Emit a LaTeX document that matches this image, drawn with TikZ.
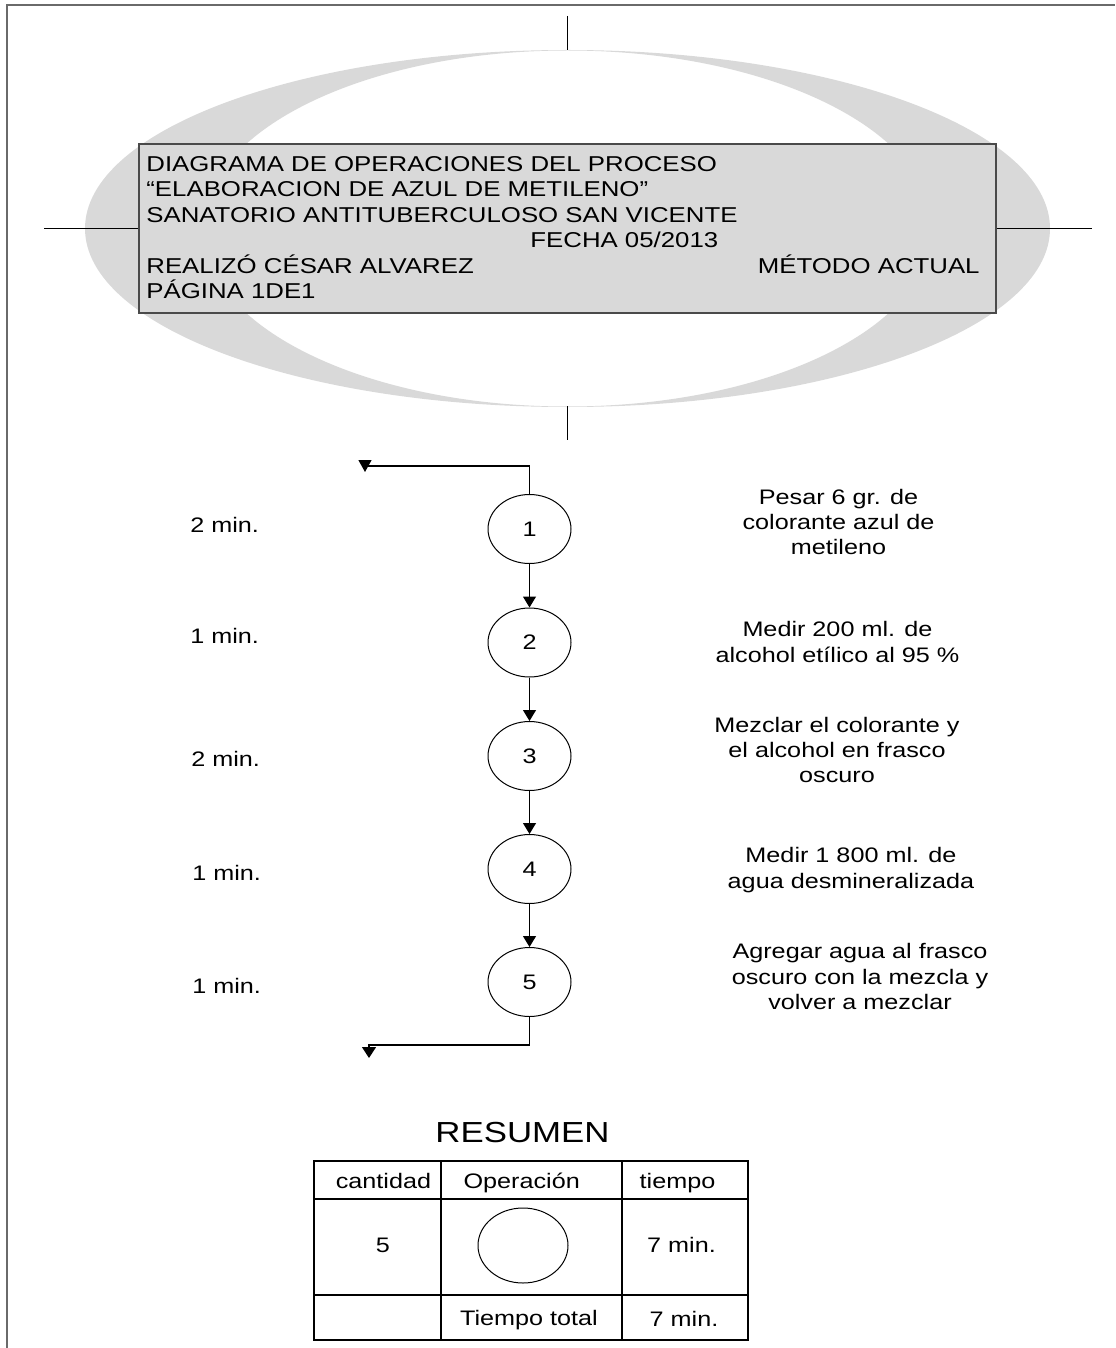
\documentclass[tikz,border=0pt]{standalone}
\usepackage{fontspec}
\setmainfont{Liberation Sans}[FakeStretch=1.2]
\usetikzlibrary{shapes.geometric,arrows.meta}
\definecolor{bandgray}{HTML}{D9D9D9}
\definecolor{framegray}{HTML}{6A6A6A}
\definecolor{edgegray}{HTML}{4A4A4A}

\begin{document}
\begin{tikzpicture}[x=0.5pt,y=-0.5pt,
  txt/.style={inner sep=0pt, font=\fontsize{10.5}{12.65}\selectfont},
  headtxt/.style={inner sep=0pt, font=\fontsize{10.75}{12.65}\selectfont},
  desc/.style={txt, align=center},
  opnode/.style={ellipse, draw, line width=0.5pt, minimum width=41.5pt,
    minimum height=34.5pt, inner sep=0pt, font=\fontsize{10.5}{12.65}\selectfont},
  flow/.style={line width=0.6pt, -{Triangle[length=5.5pt,width=6.5pt]}},
  thin/.style={line width=0.6pt},
]
\useasboundingbox (0,0) rectangle (1115,1348);

% page frame (left and top edges)
\draw[framegray, line width=1pt] (7,1348) -- (7,5) -- (1115,5);

% header: crescent band behind the title box
\fill[bandgray, even odd rule]
  (567.5,228.5) ellipse [x radius=482.5, y radius=178.5]
  (567.5,228.5) ellipse [x radius=365, y radius=178];

% crosshair ticks around the header
\coordinate (tickTopA) at (567.5,16);
\coordinate (tickTopB) at (567.5,50);
\coordinate (tickBotA) at (567.5,406);
\coordinate (tickBotB) at (567.5,440);
\coordinate (tickL) at (44,228.5);
\coordinate (tickR) at (1092,228.5);
\draw[thin] (tickTopA) -- (tickTopB);
\draw[thin] (tickBotA) -- (tickBotB);

\node[draw=edgegray, line width=0.8pt, fill=bandgray, minimum width=428.5pt,
  minimum height=84.5pt, inner sep=0pt] (head) at (567.5,228.5) {};
\draw[thin] (tickL) -- (head.west);
\draw[thin] (head.east) -- (tickR);

\node[headtxt, anchor=base west] (h1) at (146,172) {DIAGRAMA DE OPERACIONES DEL PROCESO};
\node[headtxt, anchor=base west] (h2) at (146,197) {“ELABORACION DE AZUL DE METILENO”};
\node[headtxt, anchor=base west] (h3) at (146,222) {SANATORIO ANTITUBERCULOSO SAN VICENTE};
\node[headtxt, anchor=base west] (h4) at (530,248) {FECHA 05/2013};
\node[headtxt, anchor=base west] (h5) at (146,273) {REALIZÓ CÉSAR ALVAREZ};
\node[headtxt, anchor=base east] (h6) at (980,273) {MÉTODO ACTUAL};
\node[headtxt, anchor=base west] (h7) at (146,298) {PÁGINA 1DE1};

% operations
\node[opnode] (n1) at (529.5,529) {1};
\node[opnode] (n2) at (529.5,642.5) {2};
\node[opnode] (n3) at (529.5,756) {3};
\node[opnode] (n4) at (529.5,869) {4};
\node[opnode] (n5) at (529.5,982) {5};

\coordinate (inEnd) at (365,472);
\coordinate (outEnd) at (369,1058);
\draw[line width=0.6pt, -{Triangle[length=6pt,width=6.5pt]}]
  (n1.north) -- ++(0,-28) -| (inEnd);
\draw[flow] (n1) -- (n2);
\draw[flow] (n2) -- (n3);
\draw[flow] (n3) -- (n4);
\draw[flow] (n4) -- (n5);
\draw[line width=0.6pt, -{Triangle[length=5.5pt,width=7pt]}]
  (n5.south) -- ++(0,28) -| (outEnd);

% times
\node[txt, anchor=base west] (t1) at (190,532) {2 min.};
\node[txt, anchor=base west] (t2) at (190,643) {1 min.};
\node[txt, anchor=base west] (t3) at (191,766) {2 min.};
\node[txt, anchor=base west] (t4) at (192,880) {1 min.};
\node[txt, anchor=base west] (t5) at (192,993) {1 min.};

% descriptions
\node[desc] (d1) at (838.5,522) {Pesar 6 gr. de\\colorante azul de\\metileno};
\node[desc] (d2) at (837.5,642) {Medir 200 ml. de\\alcohol etílico al 95 \%};
\node[desc] (d3) at (837,750) {Mezclar el colorante y\\el alcohol en frasco\\oscuro};
\node[desc] (d4) at (851,870) {Medir 1 800 ml. de\\agua desmineralizada};
\node[desc] (d5) at (860,976.5) {Agregar agua al frasco\\oscuro con la mezcla y\\volver a mezclar};

% summary
\node[inner sep=0pt, font=\fontsize{14.5}{17}\selectfont, anchor=base] (res) at (522.5,1142) {RESUMEN};

\draw[thin] (314,1161) rectangle (748,1340);
\draw[thin] (314,1199) -- (748,1199);
\draw[thin] (314,1295) -- (748,1295);
\draw[thin] (441,1161) -- (441,1340);
\draw[thin] (622,1161) -- (622,1340);

\node[txt, anchor=base] (c1) at (383.5,1188) {cantidad};
\node[txt, anchor=base] (c2) at (521.7,1188) {Operación};
\node[txt, anchor=base] (c3) at (677.5,1188) {tiempo};
\node[txt, anchor=base] (c4) at (383,1252) {5};
\node[ellipse, draw, line width=0.5pt, minimum width=45pt, minimum height=37.5pt, inner sep=0pt] (sym) at (523,1245.5) {};
\node[txt, anchor=base] (c5) at (681.5,1252) {7 min.};
\node[txt, anchor=base] (c6) at (529,1325) {Tiempo total};
\node[txt, anchor=base] (c7) at (684,1326) {7 min.};
\end{tikzpicture}
\end{document}
